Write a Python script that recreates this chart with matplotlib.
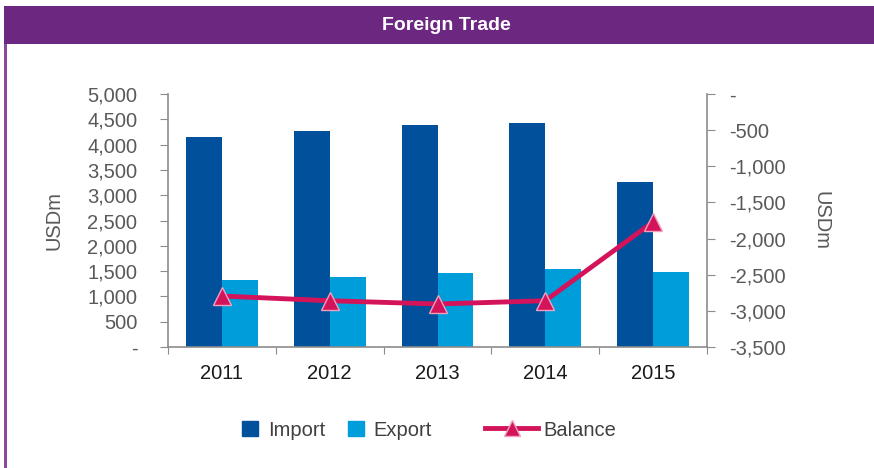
import matplotlib
matplotlib.use("Agg")
import matplotlib.pyplot as plt
import matplotlib.patches as mpatches
from matplotlib.lines import Line2D
import numpy as np

years = ["2011", "2012", "2013", "2014", "2015"]
imports = [4150, 4270, 4385, 4425, 3260]
exports = [1325, 1385, 1465, 1540, 1480]
balance = [-2795, -2860, -2905, -2860, -1770]
left_ticks = [0, 500, 1000, 1500, 2000, 2500, 3000, 3500, 4000, 4500, 5000]
right_ticks = [0, -500, -1000, -1500, -2000, -2500, -3000, -3500]

C_IMP = "#00509b"
C_EXP = "#009ddb"
C_BAL = "#d4145a"
PURPLE = "#6c2780"
GREY = "#595959"
SPINE = "#8c8c8c"

plt.rcParams['font.family'] = ['Liberation Sans', 'DejaVu Sans']

W, H = 874, 468
fig = plt.figure(figsize=(W/100, H/100), dpi=100)

# header band and left border
fig.patches.append(mpatches.Rectangle((4/W, 1-44/H), (W-4)/W, 38/H, transform=fig.transFigure,
                                      facecolor=PURPLE, edgecolor='none', zorder=0))
fig.patches.append(mpatches.Rectangle((4/W, 0), 2.5/W, 1-44/H, transform=fig.transFigure,
                                      facecolor="#8a4a9e", edgecolor='none', zorder=0))
fig.text(446/W, 1-25/H, "Foreign Trade", color="white", fontsize=14, fontweight='bold',
         ha='center', va='center', family=['Liberation Sans Narrow', 'Liberation Sans', 'DejaVu Sans'])

ax = fig.add_axes([168/W, 1-347/H, (707-168)/W, (347-94)/H])
x = np.arange(len(years))
bw = 0.333
ax.bar(x - bw/2, imports, bw, color=C_IMP, zorder=2)
ax.bar(x + bw/2, exports, bw, color=C_EXP, zorder=2)
ax.set_xlim(-0.5, len(years) - 0.5)
ax.set_ylim(0, 5000)
ax.set_yticks(left_ticks)
ax.set_yticklabels(["-" if v == 0 else f"{v:,}" for v in left_ticks])
ax.set_xticks(np.arange(-0.5, len(years)), minor=False)
ax.set_xticklabels([])
ax.set_xticks(x, minor=True)
ax.set_xticklabels(years, minor=True)
ax.tick_params(axis='x', which='major', length=5, color=SPINE, direction='out')
ax.tick_params(axis='x', which='minor', length=0, pad=12, labelsize=14.5, labelcolor="#1a1a1a")
ax.tick_params(axis='y', length=6, color=SPINE, pad=16, labelsize=14.5, labelcolor=GREY)
for s in ['top', 'right']:
    ax.spines[s].set_visible(False)
for s in ['left', 'bottom']:
    ax.spines[s].set_color(SPINE)
    ax.spines[s].set_linewidth(1.2)
ax.set_ylabel("USDm", fontsize=14.5, color=GREY, labelpad=17)

ax2 = ax.twinx()
ax2.plot(x, balance, color=C_BAL, lw=3.5, marker='^', markersize=13,
         markerfacecolor=C_BAL, markeredgecolor="#f0a0c0", markeredgewidth=1, zorder=3)
ax2.set_ylim(-3500, 0)
ax2.set_yticks(right_ticks)
ax2.set_yticklabels(["-" if v == 0 else f"{v:,}" for v in right_ticks])
ax2.tick_params(axis='y', length=6, color=SPINE, pad=10, labelsize=14.5, labelcolor=GREY)
for s in ['top', 'left', 'bottom']:
    ax2.spines[s].set_visible(False)
ax2.spines['right'].set_color(SPINE)
ax2.spines['right'].set_linewidth(1.2)
ax2.set_ylabel("USDm", fontsize=14.5, color=GREY, rotation=270, labelpad=32)

h1 = mpatches.Patch(color=C_IMP, label="Import")
h2 = mpatches.Patch(color=C_EXP, label="Export")
h3 = Line2D([], [], color=C_BAL, lw=3.5, marker='^', markersize=11,
            markerfacecolor=C_BAL, markeredgecolor="#f0a0c0", markeredgewidth=1, label="Balance")
leg1 = fig.legend(handles=[h1, h2], loc='center', bbox_to_anchor=(337/W, 1-430/H), ncol=2,
                  frameon=False, fontsize=14.5, handlelength=0.8, handleheight=0.8,
                  handletextpad=0.5, columnspacing=1.1, labelcolor="#404040")
leg2 = fig.legend(handles=[h3], loc='center', bbox_to_anchor=(551/W, 1-430/H), ncol=1,
                  frameon=False, fontsize=14.5, handlelength=2.6, handletextpad=0.3,
                  labelcolor="#404040")

fig.savefig("out.png", dpi=100)
